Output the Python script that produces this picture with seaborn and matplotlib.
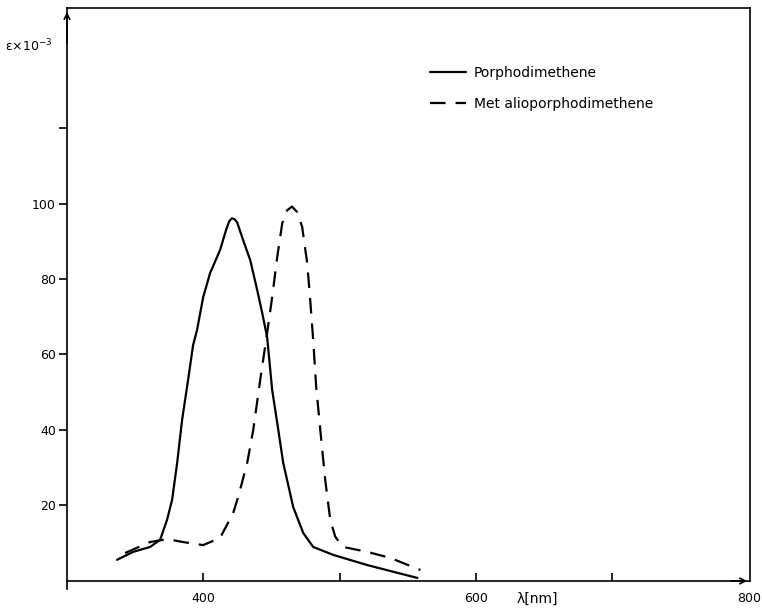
import numpy as np
import pandas as pd
import matplotlib
matplotlib.use("Agg")
import matplotlib.pyplot as plt
import seaborn as sns

# --- data ---
porph_nm = [336.7, 348.5, 360.9, 368.3, 373.4, 377.1, 380.8, 384.4, 388.8, 392.5, 395.4, 399.9,
            405.0, 412.3, 416.7, 419.0, 420.9, 423.0, 424.8, 429.2, 434.4, 439.5, 443.2, 446.8,
            450.5, 454.2, 458.6, 465.9, 473.3, 480.6, 495.3, 520.3, 557.0]
porph_eps = [5.6, 7.7, 9.0, 10.9, 16.2, 21.5, 31.3, 42.6, 53.2, 62.5, 66.5, 75.2,
             81.6, 87.7, 93.0, 95.3, 96.1, 95.8, 95.0, 90.3, 85.0, 77.1, 71.0, 64.6,
             50.6, 41.9, 31.3, 19.6, 12.7, 9.0, 6.9, 4.2, 0.8]

metal_nm = [342.6, 360.9, 373.4, 385.2, 399.9, 412.3, 421.9, 425.6, 432.2, 436.6, 441.7, 446.8,
            450.5, 454.2, 457.9, 461.5, 465.0, 468.9, 472.5, 476.2, 478.4, 480.6, 482.8, 485.8,
            489.4, 493.1, 496.8, 502.6, 520.3, 537.2, 559.2]
metal_eps = [7.4, 10.3, 11.1, 10.3, 9.5, 11.4, 18.0, 22.3, 31.3, 40.0, 53.2, 65.7,
             75.2, 85.8, 94.8, 98.2, 99.2, 97.7, 93.8, 84.2, 74.4, 63.8, 51.4, 40.0,
             26.8, 16.2, 11.7, 9.0, 7.7, 6.1, 2.9]

series_names = ["Porphodimethene", "Metalioporphodimethene"]
legend_labels = ["Porphodimethene", "Met alioporphodimethene"]
y_ticks = [20, 40, 60, 80, 100]
x_ticks = [400, 600]
x_minor = [500, 700]

df = pd.concat([
    pd.DataFrame({"nm": porph_nm, "eps": porph_eps, "compound": series_names[0]}),
    pd.DataFrame({"nm": metal_nm, "eps": metal_eps, "compound": series_names[1]}),
], ignore_index=True)

sns.set_style("white")
plt.rcParams["font.family"] = ["DejaVu Sans"]
plt.rcParams["text.color"] = "black"
plt.rcParams["xtick.color"] = "black"
plt.rcParams["ytick.color"] = "black"

YTOP = 151.8
fig = plt.figure(figsize=(7.62, 6.15), dpi=100)
ax = fig.add_axes([67 / 762, 26.5 / 615, (750 - 67) / 762, (607 - 26.5) / 615])

sns.lineplot(data=df, x="nm", y="eps", style="compound", color="black",
             dashes={series_names[0]: "", series_names[1]: (7, 4.5)},
             estimator=None, sort=False, linewidth=1.6, ax=ax)

ax.set_xlim(300, 801)
ax.set_ylim(-2, YTOP)
ax.spines["bottom"].set_position(("data", 0))
ax.spines["right"].set_bounds(0, YTOP)
for s in ax.spines.values():
    s.set_color("black")
    s.set_linewidth(1.2)

ax.set_yticks(y_ticks + [120])
ax.set_yticklabels([str(v) for v in y_ticks] + [""])
ax.tick_params(axis="y", direction="out", length=6, width=1.2, labelsize=9, pad=2,
               left=True, colors="black")
ax.set_xticks(x_ticks + x_minor)
ax.set_xticklabels([str(v) for v in x_ticks] + ["", ""])
ax.tick_params(axis="x", direction="in", length=6, width=1.2, labelsize=9, pad=8,
               bottom=True, colors="black")
ax.set_xlabel("")
ax.set_ylabel("")

# arrows at axis ends
ax.annotate("", xy=(300, YTOP - 0.3), xytext=(300, YTOP - 10),
            arrowprops=dict(arrowstyle="->", color="black", lw=1.2), annotation_clip=False)
ax.annotate("", xy=(801, 0), xytext=(785, 0),
            arrowprops=dict(arrowstyle="->", color="black", lw=1.2), annotation_clip=False)

ax.text(800, -3.0, "800", ha="center", va="top", fontsize=9)
ax.text(645, -3.0, "λ[nm]", ha="center", va="top", fontsize=10)
fig.text(5 / 762, 1 - 46 / 615, "ε×10$^{-3}$", ha="left", va="center", fontsize=9)

handles, _ = ax.get_legend_handles_labels()
leg = ax.legend(handles, legend_labels, loc="upper left",
                bbox_to_anchor=((430 - 67) / 683, (588.5 - 66) / 580.5),
                frameon=False, fontsize=10, handlelength=2.6, handletextpad=0.55,
                labelspacing=1.25, borderpad=0, borderaxespad=0)

fig.savefig("out.png", dpi=100)
